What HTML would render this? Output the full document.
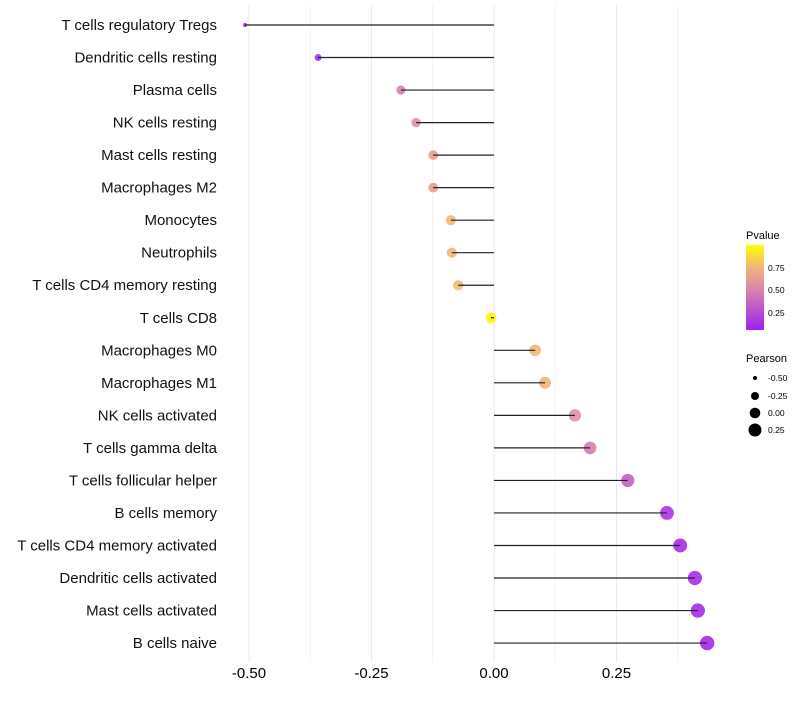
<!DOCTYPE html>
<html><head><meta charset="utf-8"><style>
body{margin:0;background:#fff;font-family:"Liberation Sans",sans-serif}
</style></head><body>
<svg id="c" width="800" height="700" xmlns="http://www.w3.org/2000/svg" style="font-family:'Liberation Sans',sans-serif">
<g id="grid"></g>
<g id="marks"></g>
<g id="ylab"></g>
<g id="xlab"></g>
<g>
<defs><linearGradient id="pg" x1="0" y1="1" x2="0" y2="0">
<stop offset="0" stop-color="#a020f0"/><stop offset="0.5" stop-color="#d98aa8"/><stop offset="0.75" stop-color="#f2b878"/><stop offset="1" stop-color="#ffff00"/></linearGradient></defs>
<text x="746" y="239" font-size="11">Pvalue</text>
<rect x="746" y="245" width="18" height="85" fill="url(#pg)"/>
<text x="768" y="271" font-size="8.5">0.75</text>
<text x="768" y="293" font-size="8.5">0.50</text>
<text x="768" y="316" font-size="8.5">0.25</text>
<text x="746" y="362" font-size="11">Pearson</text>
<circle cx="755" cy="378" r="2" fill="#000"/>
<circle cx="755" cy="396" r="4" fill="#000"/>
<circle cx="755" cy="413" r="5.3" fill="#000"/>
<circle cx="755" cy="430" r="6.5" fill="#000"/>
<text x="768" y="381" font-size="8.5">-0.50</text>
<text x="768" y="399" font-size="8.5">-0.25</text>
<text x="768" y="416" font-size="8.5">0.00</text>
<text x="768" y="433" font-size="8.5">0.25</text>
</g>
</svg>
<script>
const categories=["T cells regulatory  Tregs","Dendritic cells resting","Plasma cells","NK cells resting","Mast cells resting","Macrophages M2","Monocytes","Neutrophils","T cells CD4 memory resting","T cells CD8","Macrophages M0","Macrophages M1","NK cells activated","T cells gamma delta","T cells follicular helper","B cells memory","T cells CD4 memory activated","Dendritic cells activated","Mast cells activated","B cells naive"];
const pearson=[-0.508,-0.359,-0.190,-0.159,-0.124,-0.124,-0.088,-0.086,-0.073,-0.006,0.084,0.104,0.165,0.196,0.273,0.353,0.380,0.410,0.416,0.435];
const pvalue=[0.03,0.08,0.45,0.55,0.62,0.62,0.74,0.74,0.76,0.97,0.74,0.72,0.55,0.45,0.3,0.1,0.06,0.05,0.05,0.04];
const xTicks=[-0.5,-0.25,0,0.25];
const xTickLabels=["-0.50","-0.25","0.00","0.25"];
const NS="http://www.w3.org/2000/svg";
const X=v=>494+v*490;
const Y=i=>25+i*32.53;
const R=v=>Math.sqrt(Math.max(1,30+50*v));
const stops=[[0,[160,32,240]],[0.5,[217,138,168]],[0.75,[242,184,120]],[1,[255,255,0]]];
function col(p){for(let k=1;k<stops.length;k++){if(p<=stops[k][0]){const a=stops[k-1],b=stops[k],t=(p-a[0])/(b[0]-a[0]);return "rgb("+a[1].map((c,j)=>Math.round(c+(b[1][j]-c)*t)).join(",")+")";}}return "rgb(255,255,0)";}
function mk(t,a,p){const e=document.createElementNS(NS,t);for(const k in a)e.setAttribute(k,a[k]);p.appendChild(e);return e;}
const grid=document.getElementById('grid'),marks=document.getElementById('marks'),yl=document.getElementById('ylab'),xl=document.getElementById('xlab');
for(let g=-0.5;g<=0.376;g+=0.125){const l=mk('line',{x1:X(g),x2:X(g),y1:5,y2:662,stroke:'#ebebeb','stroke-width':Math.abs((g*4)%1)<1e-6?1:0.6},grid);

}
xTicks.forEach((t,i)=>{const e=mk('text',{x:X(t),y:678,'font-size':15,'text-anchor':'middle',fill:'#000'},xl);e.textContent=xTickLabels[i];

});
categories.forEach((c,i)=>{
const y=Y(i);
const t=mk('text',{x:217,y:y+5,'font-size':15,'text-anchor':'end',fill:'#111'},yl);t.textContent=c;


const p=mk('circle',{cx:X(pearson[i]),cy:y,r:R(pearson[i]),fill:col(pvalue[i]),'fill-opacity':0.9},marks);


const l=mk('line',{x1:X(0),x2:X(pearson[i]),y1:y,y2:y,stroke:'#222','stroke-width':1.2},marks);


});
</script>
</body></html>
